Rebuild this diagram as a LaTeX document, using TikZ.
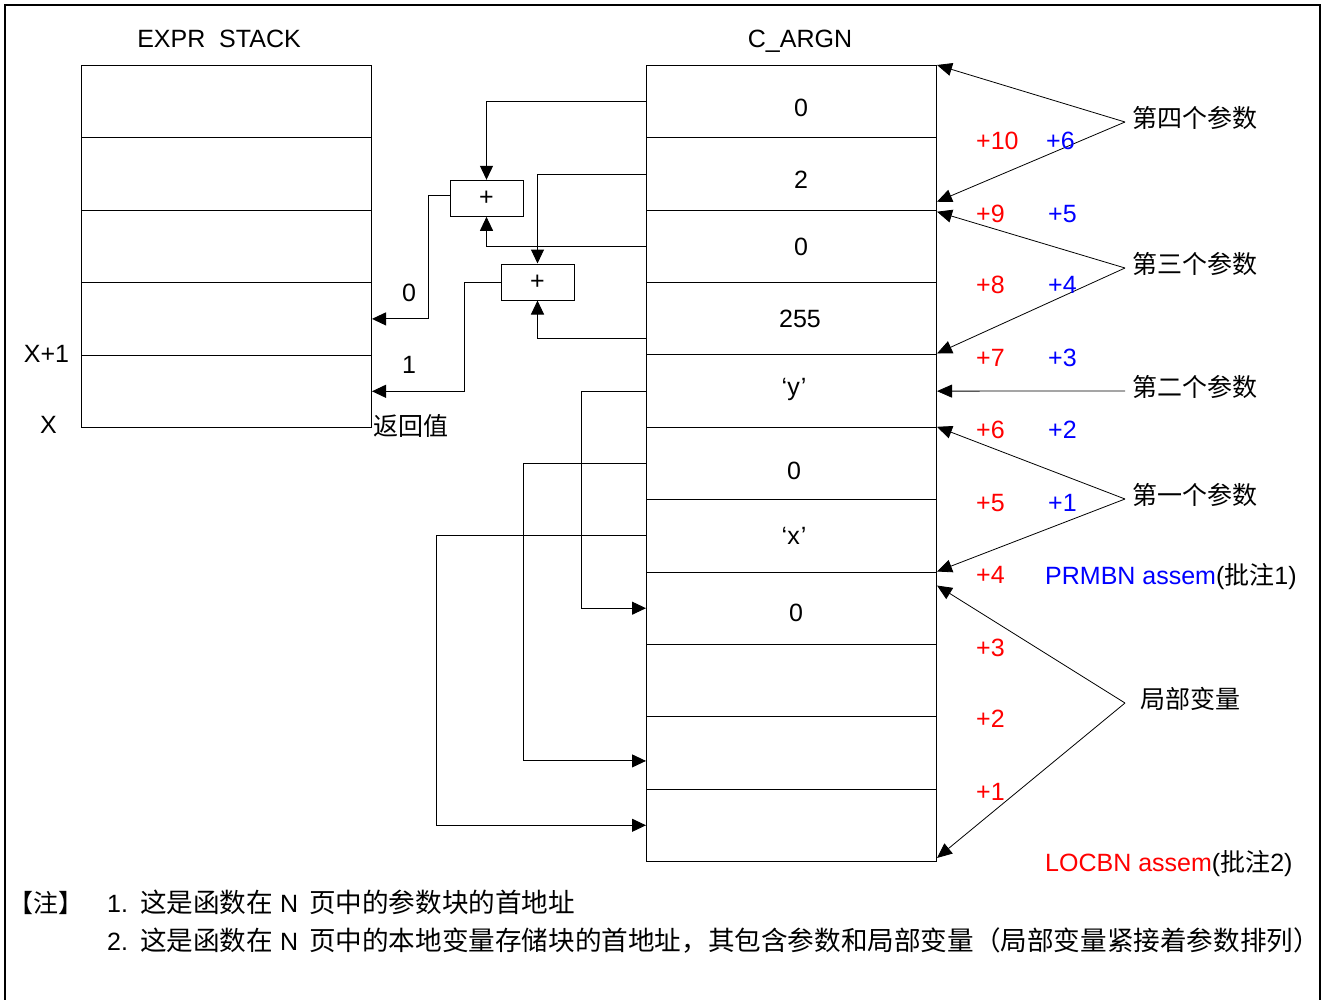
\documentclass[tikz,border=0pt]{standalone}
\usepackage{fontspec}
\setmainfont{Liberation Sans}
\newfontfamily\cjk{Noto Sans CJK SC}
\usetikzlibrary{arrows.meta,calc}
\begin{document}
\begin{tikzpicture}[x=1pt,y=-1pt,
  txt/.style={font=\fontsize{25}{30}\selectfont, inner sep=0pt},
  cell/.style={draw, line width=1pt, minimum width=290pt, minimum height=72.36pt, inner sep=0pt, anchor=north west},
  scell/.style={draw, line width=1pt, minimum width=290pt, minimum height=72.4pt, inner sep=0pt, anchor=north west},
  plusbox/.style={draw, line width=1pt, minimum width=73pt, minimum height=36pt, inner sep=0pt, text height=14pt, text depth=0pt, font=\fontsize{25}{30}\selectfont},
  arr/.style={line width=1pt, -{Triangle[length=14pt,width=13pt]}},
  pointer/.style={line width=0.8pt, -{Triangle[length=15pt,width=13pt]}},
  lab/.style={txt, anchor=west, inner xsep=7pt, inner ysep=0pt, font=\fontsize{25}{30}\selectfont\cjk},
  rnum/.style={txt, anchor=base west, text=red},
  bnum/.style={txt, anchor=base west, text=blue},
]
\useasboundingbox (0,0) rectangle (1325,999);
\draw[line width=2.5pt] (5,1005) -- (5,5) -- (1320,5) -- (1320,1005);

% titles
\node[txt, anchor=base] (ttlA) at (219,47) {EXPR~~STACK};
\node[txt, anchor=base] (ttlB) at (800,47) {C\_ARGN};

% expr stack
\foreach \i in {1,...,5} \node[scell] (s\i) at (81,{65+72.4*(\i-1)}) {};
\node[txt, anchor=base] (xp1) at (46.5,362) {X+1};
\node[txt, anchor=base] (xx) at (48.5,433) {X};
\node[txt, anchor=west, font=\fontsize{25}{30}\selectfont\cjk] (ret) at (373,426) {返回值};

% c_argn
\foreach \i in {1,...,11} \node[cell] (c\i) at (646,{65+72.36*(\i-1)}) {};
\node[txt, anchor=base] (t1) at (801,116) {0};
\node[txt, anchor=base] (t2) at (801,188) {2};
\node[txt, anchor=base] (t3) at (801,255) {0};
\node[txt, anchor=base] (t4) at (800,327) {255};
\node[txt, anchor=base] (t5) at (794,395) {‘y\kern1pt’};
\node[txt, anchor=base] (t6) at (794,479) {0};
\node[txt, anchor=base] (t7) at (794,544) {‘x\kern1pt’};
\node[txt, anchor=base] (t8) at (796,621) {0};

% plus boxes
\node[plusbox] (p1) at (486.5,198.3) {+};
\node[plusbox] (p2) at (537.5,282) {+};

\draw[arr] (c1.west) -| (p1.north);
\draw[arr] (c2.west) -| (p2.north);
\draw[arr] (c3.west) -| (p1.south);
\draw[arr] ([yshift=17pt]c4.south west) -| (p2.south);
\draw[arr] ([yshift=3pt]p1.west) -- ++(-21,0) |- (s4.east);
\draw[arr] (p2.west) -- ++(-36,0) |- (s5.east);
\node[txt, anchor=base] (l0) at (409,301) {0};
\node[txt, anchor=base] (l1) at (409,373) {1};

\draw[arr] (c5.west) -- ++(-65,0) |- (c8.west);
\draw[arr] (c6.west) -- ++(-123,0) |- ([yshift=-8pt]c10.west);
\draw[arr] (c7.west) -- ++(-210,0) |- (c11.west);

% right labels
\node[lab] (L4) at (1125,118) {第四个参数};
\node[lab] (L3) at (1125,264) {第三个参数};
\node[lab] (L2) at (1125,387) {第二个参数};
\node[lab] (L1) at (1125,495) {第一个参数};
\node[lab, inner xsep=15pt] (LL) at (1125,699) {局部变量};

\draw[pointer] ([yshift=-4pt]L4.west) -- (c1.north east);
\draw[pointer] ([yshift=-4pt]L4.west) -- ([yshift=9pt]c2.south east);
\draw[pointer] ([yshift=-4pt]L3.west) -- ([yshift=-2pt]c3.north east);
\draw[pointer] ([yshift=-4pt]L3.west) -- ([yshift=2pt]c4.south east);
\draw[pointer] ([yshift=-4pt]L2.west) -- (c5.east);
\draw[pointer] ([yshift=-4pt]L1.west) -- (c6.north east);
\draw[pointer] ([yshift=-4pt]L1.west) -- ([yshift=1pt]c7.south east);
\draw[pointer] ([yshift=-4pt]LL.west) -- ([yshift=-14pt]c8.north east);
\draw[pointer] ([yshift=-4pt]LL.west) -- ([yshift=4pt]c11.south east);

% offsets
\node[rnum] (r10) at (976,149) {+10};
\node[rnum] (r9) at (976,222) {+9};
\node[rnum] (r8) at (976,293) {+8};
\node[rnum] (r7) at (976,366) {+7};
\node[rnum] (r6) at (976,438) {+6};
\node[rnum] (r5) at (976,511) {+5};
\node[rnum] (r4) at (976,583) {+4};
\node[rnum] (r3) at (976,656) {+3};
\node[rnum] (r2) at (976,727) {+2};
\node[rnum] (r1) at (976,800) {+1};
\node[bnum] (b6) at (1046,149) {+6};
\node[bnum] (b5) at (1048,222) {+5};
\node[bnum] (b4) at (1048,293) {+4};
\node[bnum] (b3) at (1048,366) {+3};
\node[bnum] (b2) at (1048,438) {+2};
\node[bnum] (b1) at (1048,511) {+1};

\node[txt, anchor=base west] (prm) at (1045,584) {\textcolor{blue}{PRMBN assem}({\cjk 批注}1)};
\node[txt, anchor=base west] (loc) at (1045,871) {\textcolor{red}{LOCBN assem}({\cjk 批注}2)};

% notes
\node[txt, anchor=west, font=\fontsize{25}{30}\selectfont\cjk] (nt) at (8,903) {【注】};
\node[txt, anchor=base west] (n1) at (107,912) {1.\hspace{12pt}{\fontsize{26.6}{30}\selectfont\cjk 这是函数在}\hspace{7pt}N\hspace{11pt}{\fontsize{26.6}{30}\selectfont\cjk 页中的参数块的首地址}};
\node[txt, anchor=base west] (n2) at (107,950) {2.\hspace{12pt}{\fontsize{26.6}{30}\selectfont\cjk 这是函数在}\hspace{7pt}N\hspace{11pt}{\fontsize{26.6}{30}\selectfont\cjk 页中的本地变量存储块的首地址，其包含参数和局部变量（局部变量紧接着参数排列）}};
\end{tikzpicture}
\end{document}
